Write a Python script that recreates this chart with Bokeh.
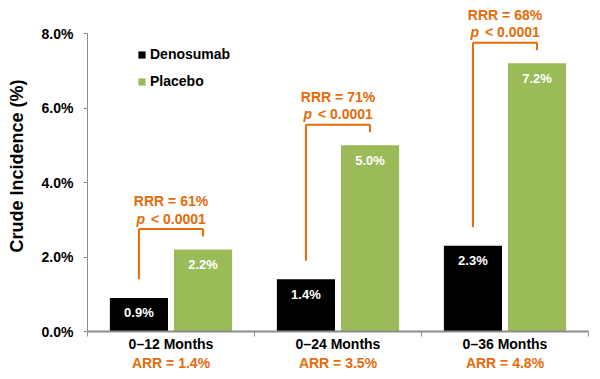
from bokeh.plotting import figure
from bokeh.models import (ColumnDataSource, FixedTicker, LinearAxis, Range1d,
                          Legend, LegendItem, NumeralTickFormatter)
from bokeh.core.properties import value
from bokeh.embed import file_html
from bokeh.resources import INLINE

# ---- data ----
periods = ["0\u201312 Months", "0\u201324 Months", "0\u201336 Months"]
arr_labels = ["ARR = 1.4%", "ARR = 3.5%", "ARR = 4.8%"]
denosumab = [0.9, 1.4, 2.3]
placebo = [2.2, 5.0, 7.2]
rrr_labels = ["RRR = 61%", "RRR = 71%", "RRR = 68%"]
p_labels = ["< 0.0001", "< 0.0001", "< 0.0001"]
y_ticks = [0, 2, 4, 6, 8]

FONT = "Liberation Sans"
BLACK = "#000000"
GREEN = "#9BBB59"
ORANGE = "#E46C0A"
AXIS_GRAY = "#8C8C8C"

W, H = 600, 379
p = figure(width=W, height=H, output_backend="svg", toolbar_location=None,
           x_range=Range1d(0, 3), y_range=Range1d(0, 8.886),
           min_border_left=87, min_border_right=12, min_border_top=0,
           min_border_bottom=48, x_axis_location=None, y_axis_location=None)
p.outline_line_color = None
p.xgrid.visible = False
p.ygrid.visible = False
p.background_fill_color = "white"
p.border_fill_color = "white"

n = len(periods)
centers = [i + 0.5 for i in range(n)]
off_d, off_p, bw = -0.192, 0.192, 0.348
xd = [c + off_d for c in centers]
xp = [c + off_p for c in centers]

src = ColumnDataSource(dict(
    xd=xd, xp=xp, den=denosumab, pla=placebo,
    den_lbl=[f"{v:.1f}%" for v in denosumab],
    pla_lbl=[f"{v:.1f}%" for v in placebo],
))

r_den = p.vbar(x="xd", top="den", width=bw, bottom=0, source=src,
               fill_color=BLACK, line_color=None)
r_pla = p.vbar(x="xp", top="pla", width=bw, bottom=0, source=src,
               fill_color=GREEN, line_color=None)

for xcol, ycol, lcol in (("xd", "den", "den_lbl"), ("xp", "pla", "pla_lbl")):
    p.text(x=xcol, y=ycol, text=lcol, source=src, y_offset=15,
           text_align="center", text_baseline="middle", text_color="white",
           text_font=value(FONT), text_font_style="bold", text_font_size="13px")

# ---- brackets ----
bx_l = xd
bx_r = xp
b_left_bot = [v + 0.5 for v in denosumab]
b_top = [v + 0.55 for v in placebo]
b_right_bot = [v + 0.35 for v in placebo]
bsrc = ColumnDataSource(dict(xl=bx_l, xr=bx_r, lb=b_left_bot, top=b_top,
                             rb=b_right_bot,
                             xm=[(a + b) / 2 for a, b in zip(bx_l, bx_r)],
                             rrr=rrr_labels, pl=p_labels,
                             yr=[v + 1.3 for v in placebo],
                             yp=[v + 0.83 for v in placebo],
                             pp=["p"] * n))
p.segment(x0="xl", y0="lb", x1="xl", y1="top", source=bsrc,
          line_color=ORANGE, line_width=2)
p.segment(x0="xl", y0="top", x1="xr", y1="top", source=bsrc,
          line_color=ORANGE, line_width=2)
p.segment(x0="xr", y0="top", x1="xr", y1="rb", source=bsrc,
          line_color=ORANGE, line_width=2)

p.text(x="xm", y="yr", text="rrr", source=bsrc, text_align="center",
       text_baseline="middle", text_color=ORANGE, text_font=value(FONT),
       text_font_style="bold", text_font_size="14px")
p.text(x="xm", y="yp", text="pp", source=bsrc, x_offset=-26,
       text_align="right", text_baseline="middle", text_color=ORANGE,
       text_font=value(FONT), text_font_style="bold italic",
       text_font_size="14px")
p.text(x="xm", y="yp", text="pl", source=bsrc, x_offset=-20,
       text_align="left", text_baseline="middle", text_color=ORANGE,
       text_font=value(FONT), text_font_style="bold", text_font_size="14px")

# ---- axes ----
yax = LinearAxis(ticker=FixedTicker(ticks=y_ticks),
                 formatter=NumeralTickFormatter(format="0.0"),
                 bounds=(0, 8))
yax.major_label_overrides = {t: f"{t:.1f}%" for t in y_ticks}
yax.axis_line_color = AXIS_GRAY
yax.major_tick_line_color = AXIS_GRAY
yax.major_tick_out = 4
yax.major_tick_in = 0
yax.minor_tick_line_color = None
yax.major_label_standoff = 10
yax.major_label_text_font = FONT
yax.major_label_text_font_style = "bold"
yax.major_label_text_font_size = "14px"
yax.major_label_text_color = BLACK
yax.axis_label = "Crude Incidence (%)"
yax.axis_label_text_font = FONT
yax.axis_label_text_font_style = "bold"
yax.axis_label_text_font_size = "18px"
yax.axis_label_text_color = BLACK
yax.axis_label_standoff = 12
p.add_layout(yax, "left")

xax = LinearAxis(ticker=FixedTicker(ticks=centers,
                                    minor_ticks=list(range(n + 1))))
xax.major_label_overrides = {c: lbl for c, lbl in zip(centers, periods)}
xax.axis_line_color = AXIS_GRAY
xax.axis_line_width = 2
xax.major_tick_line_color = None
xax.major_tick_out = 0
xax.major_tick_in = 0
xax.minor_tick_line_color = AXIS_GRAY
xax.minor_tick_out = 5
xax.minor_tick_in = 0
xax.major_label_standoff = -1
xax.major_label_text_font = FONT
xax.major_label_text_font_style = "bold"
xax.major_label_text_font_size = "14px"
xax.major_label_text_color = BLACK
p.add_layout(xax, "below")

xax2 = LinearAxis(ticker=FixedTicker(ticks=centers))
xax2.major_label_overrides = {c: lbl for c, lbl in zip(centers, arr_labels)}
xax2.axis_line_color = None
xax2.major_tick_line_color = None
xax2.major_tick_out = 0
xax2.major_tick_in = 0
xax2.minor_tick_line_color = None
xax2.minor_tick_out = 0
xax2.major_label_standoff = 0
xax2.major_label_text_font = FONT
xax2.major_label_text_font_style = "bold"
xax2.major_label_text_font_size = "14px"
xax2.major_label_text_color = ORANGE
p.add_layout(xax2, "below")

# ---- legend ----
legend = Legend(items=[LegendItem(label="Denosumab", renderers=[r_den]),
                       LegendItem(label="Placebo", renderers=[r_pla])],
                location=(50, 242), orientation="vertical",
                glyph_width=9, glyph_height=9, label_height=14,
                label_standoff=4, spacing=11, padding=0, margin=0,
                border_line_color=None, background_fill_alpha=0,
                label_text_font=FONT, label_text_font_style="bold",
                label_text_font_size="14px", label_text_color=BLACK)
p.add_layout(legend)

open("out.html", "w").write(file_html(p, INLINE))
